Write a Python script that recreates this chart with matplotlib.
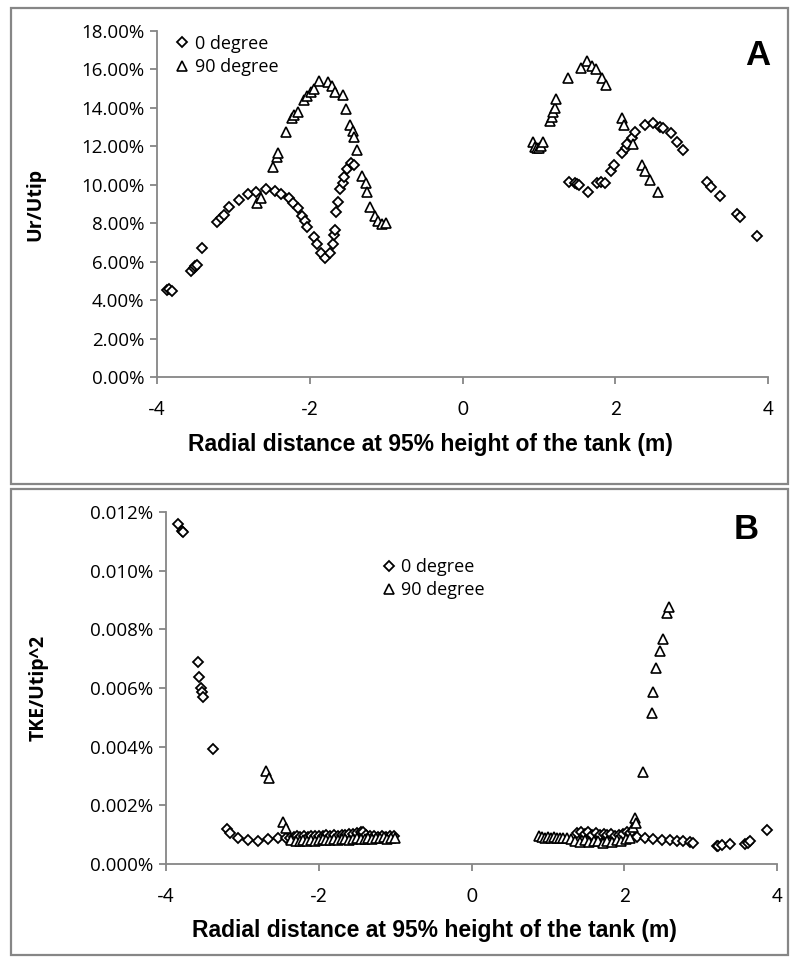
import matplotlib
matplotlib.use("Agg")
import matplotlib.pyplot as plt
from matplotlib.patches import Rectangle
from matplotlib.ticker import FuncFormatter

plt.rcParams["axes.unicode_minus"] = False

# ---- panel A : Ur/Utip (values in %) ----
a_x0 = [-3.87, -3.84, -3.80, -3.55, -3.52, -3.50, -3.47, -3.41, -3.21, -3.16, -3.12, -3.06,
        -2.92, -2.81, -2.71, -2.57, -2.45, -2.37, -2.27, -2.22, -2.16, -2.10, -2.06, -2.03,
        -1.94, -1.90, -1.85, -1.80, -1.74, -1.70, -1.68, -1.67, -1.65, -1.63, -1.60, -1.57,
        -1.55, -1.51, -1.46, -1.42,
        1.40, 1.47, 1.50, 1.53, 1.64, 1.76, 1.81, 1.86, 1.95, 1.98, 2.09, 2.14, 2.16, 2.22,
        2.26, 2.39, 2.49, 2.58, 2.62, 2.73, 2.81, 2.89, 3.20, 3.26, 3.37, 3.59, 3.63, 3.86]
a_y0 = [4.55, 4.60, 4.50, 5.50, 5.65, 5.75, 5.85, 6.70, 8.07, 8.28, 8.44, 8.85,
        9.20, 9.50, 9.60, 9.78, 9.70, 9.50, 9.30, 9.05, 8.80, 8.35, 8.10, 7.80,
        7.30, 6.90, 6.45, 6.20, 6.45, 6.90, 7.40, 7.65, 8.60, 9.10, 9.80, 10.10,
        10.40, 10.80, 11.15, 11.05,
        10.15, 10.10, 10.05, 10.00, 9.65, 10.10, 10.15, 10.10, 10.70, 11.05, 11.65, 11.90, 12.10, 12.45,
        12.75, 13.10, 13.20, 13.00, 12.95, 12.70, 12.25, 11.80, 10.15, 9.90, 9.40, 8.50, 8.30, 7.35]

a_x90 = [-2.69, -2.64, -2.48, -2.43, -2.42, -2.31, -2.23, -2.21, -2.16, -2.07, -2.03, -1.98,
         -1.95, -1.88, -1.76, -1.71, -1.67, -1.57, -1.53, -1.47, -1.44, -1.42, -1.38, -1.31,
         -1.27, -1.25, -1.21, -1.15, -1.11, -1.05, -1.00,
         0.92, 0.95, 0.97, 1.00, 1.03, 1.05, 1.14, 1.17, 1.18, 1.21, 1.23, 1.38, 1.55, 1.63,
         1.69, 1.75, 1.82, 1.88, 2.09, 2.12, 2.23, 2.35, 2.39, 2.45, 2.56]
a_y90 = [9.05, 9.30, 10.90, 11.45, 11.65, 12.75, 13.50, 13.65, 13.80, 14.40, 14.60, 14.85,
         15.00, 15.40, 15.35, 15.15, 14.85, 14.65, 13.95, 13.10, 12.80, 12.50, 11.80, 10.45,
         10.10, 9.60, 8.85, 8.35, 8.10, 7.95, 8.00,
         12.24, 11.95, 11.93, 11.93, 12.00, 12.24, 13.30, 13.55, 13.80, 14.00, 14.45, 15.55, 16.05, 16.45,
         16.20, 16.00, 15.55, 15.20, 13.50, 13.10, 12.10, 11.05, 10.70, 10.25, 9.65]

# ---- panel B : TKE/Utip^2 (values in %) ----
b_x0 = [-3.84, -3.79, -3.78, -3.58, -3.57, -3.54, -3.53, -3.51, -3.38, -3.20, -3.16, -3.06,
        -2.92, -2.79, -2.67, -2.54, -2.43,
        -2.38, -2.33, -2.28, -2.24, -2.19, -2.14, -2.10, -2.05, -2.00, -1.95, -1.90, -1.85,
        -1.80, -1.75, -1.70, -1.65, -1.60, -1.55, -1.50, -1.45, -1.42, -1.38, -1.33, -1.28,
        -1.22, -1.17, -1.12, -1.07, -1.02,
        1.38, 1.43, 1.48, 1.53, 1.58, 1.63, 1.68, 1.73, 1.78, 1.83, 1.88, 1.93, 1.98, 2.03,
        2.07, 2.17, 2.27, 2.38, 2.50, 2.60, 2.69, 2.77, 2.86, 2.90, 3.21, 3.23, 3.28, 3.38,
        3.58, 3.62, 3.65, 3.87]
b_y0 = [0.01159, 0.01135, 0.01132, 0.00689, 0.00637, 0.00600, 0.00586, 0.00569, 0.00392, 0.00118, 0.00105, 0.00089,
        0.00082, 0.00078, 0.00085, 0.00089, 0.00089,
        0.00090, 0.00092, 0.00094, 0.00091, 0.00095, 0.00093, 0.00096, 0.00094, 0.00097, 0.00095, 0.00098, 0.00096,
        0.00099, 0.00097, 0.00100, 0.00099, 0.00101, 0.00103, 0.00104, 0.00108, 0.00110, 0.00100, 0.00096, 0.00094,
        0.00092, 0.00095, 0.00093, 0.00096, 0.00094,
        0.00105, 0.00110, 0.00103, 0.00108, 0.00100, 0.00104, 0.00098, 0.00102, 0.00099, 0.00101, 0.00097, 0.00100, 0.00103, 0.00108,
        0.00106, 0.00092, 0.00089, 0.00085, 0.00082, 0.00082, 0.00078, 0.00078, 0.00075, 0.00072, 0.00062, 0.00061, 0.00065, 0.00068,
        0.00068, 0.00072, 0.00080, 0.00116]

b_x90 = [-2.69, -2.65, -2.47, -2.43,
         -2.36, -2.30, -2.25, -2.20, -2.15, -2.10, -2.05, -2.00, -1.95, -1.90, -1.85, -1.80,
         -1.75, -1.70, -1.65, -1.60, -1.55, -1.50, -1.45, -1.40, -1.35, -1.30, -1.25, -1.20,
         -1.15, -1.10, -1.05, -1.00,
         0.88, 0.92, 0.96, 1.00, 1.04, 1.08, 1.12, 1.16, 1.20, 1.25, 1.30, 1.36, 1.42, 1.48,
         1.54, 1.60, 1.66, 1.72, 1.78, 1.84, 1.90, 1.96, 2.02, 2.08, 2.12, 2.14, 2.16,
         2.25, 2.36, 2.37, 2.42, 2.47, 2.51, 2.56, 2.59]
b_y90 = [0.00317, 0.00293, 0.00143, 0.00123,
         0.00082, 0.00080, 0.00078, 0.00081, 0.00079, 0.00083, 0.00080, 0.00082, 0.00084, 0.00081, 0.00083, 0.00085,
         0.00082, 0.00084, 0.00086, 0.00083, 0.00085, 0.00087, 0.00084, 0.00086, 0.00088, 0.00085, 0.00087, 0.00089,
         0.00092, 0.00086, 0.00090, 0.00088,
         0.00095, 0.00092, 0.00090, 0.00093, 0.00089, 0.00091, 0.00088, 0.00090, 0.00087, 0.00089, 0.00086, 0.00080, 0.00076, 0.00082,
         0.00074, 0.00079, 0.00077, 0.00073, 0.00080, 0.00076, 0.00082, 0.00078, 0.00085, 0.00088, 0.00126, 0.00157, 0.00140,
         0.00314, 0.00515, 0.00586, 0.00668, 0.00726, 0.00767, 0.00856, 0.00876]

x_ticks = [-4, -2, 0, 2, 4]
legend_labels = ["0 degree", "90 degree"]
x_title = "Radial distance at 95% height of the tank (m)"

narrow = ["Lato", "DejaVu Sans"]
boldfont = ["Liberation Sans", "DejaVu Sans"]
tickfont = ["Open Sans", "DejaVu Sans"]
grey = "#868686"

fig = plt.figure(figsize=(7.9, 9.59), dpi=100)

# the two chart boxes
for (x0, y0, x1, y1) in [(11, 8, 788, 484), (11, 489, 788, 955)]:
    fig.patches.append(Rectangle((x0 / 790, 1 - y1 / 959), (x1 - x0) / 790, (y1 - y0) / 959,
                                 transform=fig.transFigure, fill=False, edgecolor=grey, lw=1.6))


def panel(rect, xd0, yd0, xd90, yd90, ymax, ystep, fmt, ylabel, letter, leg_anchor, letter_pos,
          ypad, xlab_pos):
    ax = fig.add_axes(rect)
    ax.plot(xd0, yd0, linestyle="none", marker="D", markersize=5, markerfacecolor="white",
            markeredgecolor="black", markeredgewidth=1.3, label=legend_labels[0])
    ax.plot(xd90, yd90, linestyle="none", marker="^", markersize=7, markerfacecolor="white",
            markeredgecolor="black", markeredgewidth=1.2, label=legend_labels[1])
    ax.set_xlim(-4, 4)
    ax.set_ylim(0, ymax)
    ax.set_xticks(x_ticks)
    ax.set_yticks([i * ystep for i in range(int(round(ymax / ystep)) + 1)])
    ax.yaxis.set_major_formatter(FuncFormatter(lambda v, p: fmt.format(v)))
    for s in ["top", "right"]:
        ax.spines[s].set_visible(False)
    for s in ["left", "bottom"]:
        ax.spines[s].set_color(grey)
        ax.spines[s].set_linewidth(1.3)
    ax.tick_params(axis="both", direction="out", length=5, color=grey, width=1.3)
    ax.tick_params(axis="y", labelsize=13.5, pad=4)
    ax.tick_params(axis="x", labelsize=13.5, pad=12)
    for t in ax.get_yticklabels():
        t.set_family(tickfont)
    for t in ax.get_xticklabels():
        t.set_family(narrow)
    ax.set_xlabel(x_title, fontsize=16.5, fontweight="bold", family=boldfont)
    ax.xaxis.set_label_coords(*xlab_pos)
    ax.set_ylabel(ylabel, fontsize=14, fontweight="bold", family=tickfont, labelpad=ypad)
    ax.legend(loc="upper left", bbox_to_anchor=leg_anchor, frameon=False,
              handletextpad=0.1, labelspacing=0.3, borderaxespad=0, handlelength=1.2,
              prop={"family": tickfont, "size": 13})
    ax.text(letter_pos[0], letter_pos[1], letter, transform=ax.transAxes, fontsize=25,
            fontweight="bold", family=boldfont, ha="center", va="center")
    return ax


panel([157 / 790, 1 - 377 / 959, 611 / 790, 346 / 959], a_x0, a_y0, a_x90, a_y90,
      18, 2, "{:.2f}%", "Ur/Utip", "A", (0.012, 1.01), (0.983, 0.93), 26, (0.448, -0.163))
panel([166 / 790, 1 - 864 / 959, 611 / 790, 352 / 959], b_x0, b_y0, b_x90, b_y90,
      0.012, 0.002, "{:.3f}%", "TKE/Utip^2", "B", (0.335, 0.89), (0.95, 0.95), 30, (0.44, -0.155))

fig.savefig("out.png", dpi=100)
